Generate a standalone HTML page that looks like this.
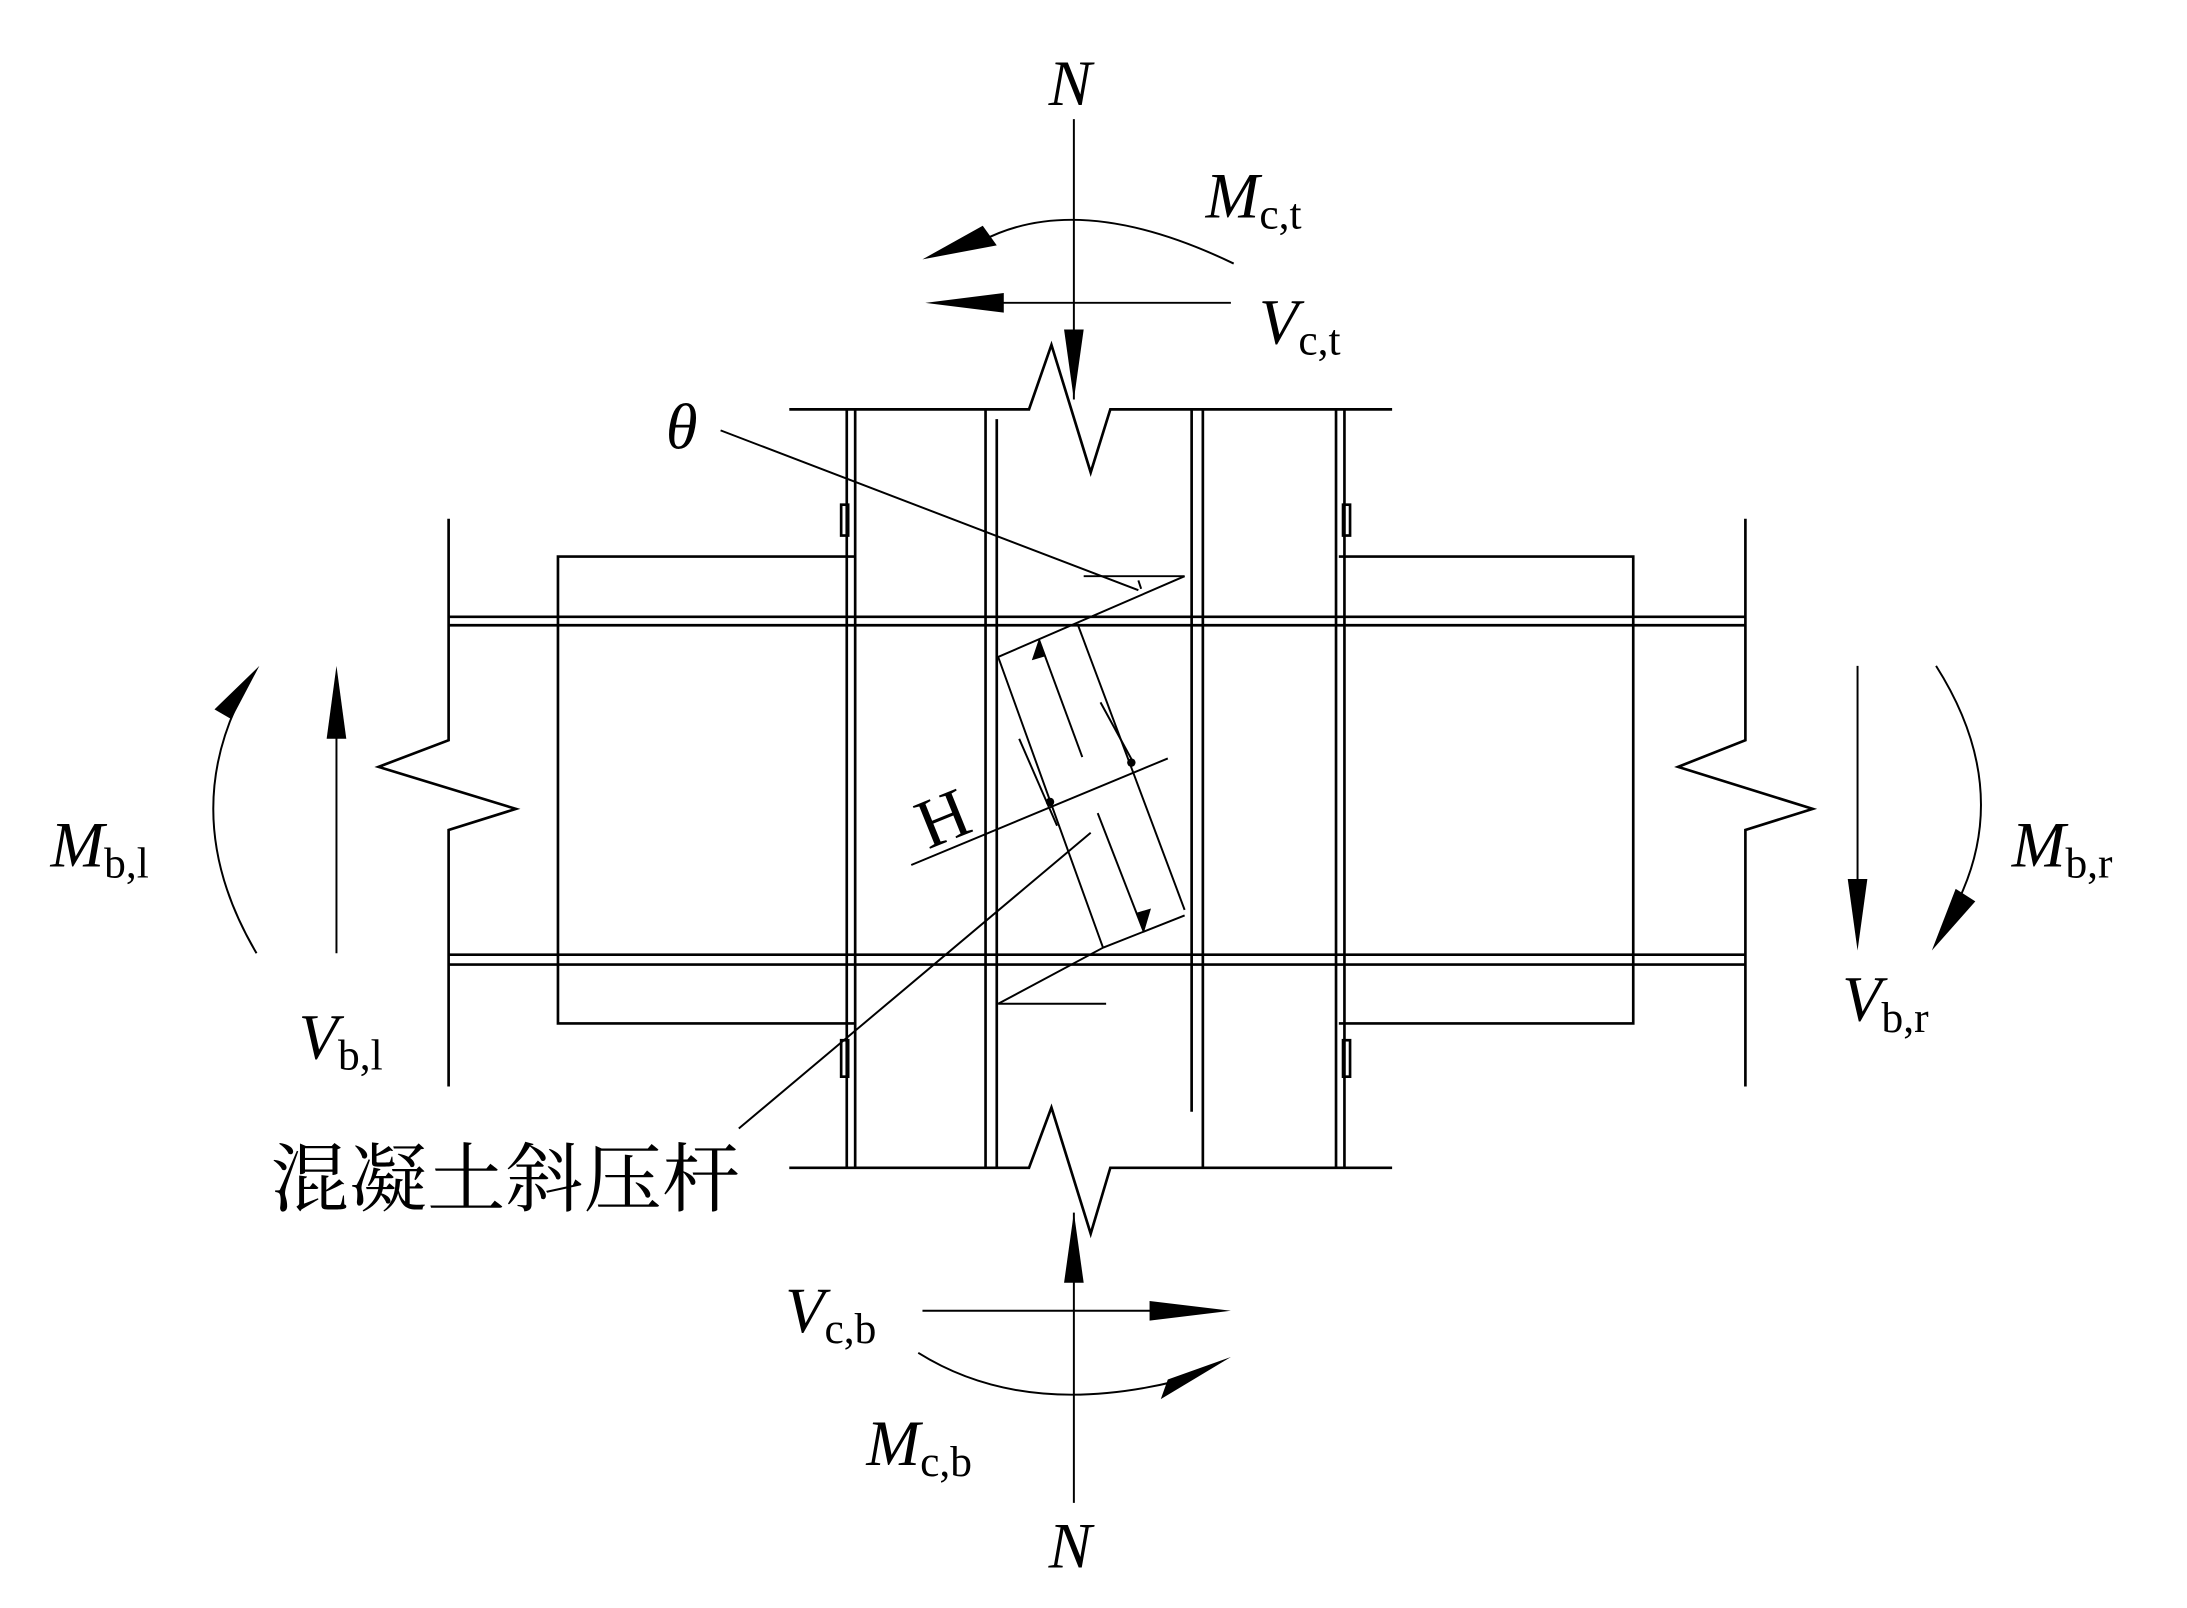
<!DOCTYPE html>
<html><head><meta charset="utf-8"><style>
html,body{margin:0;padding:0;background:#fff;}
svg{display:block;}
text{font-family:"Liberation Serif","Noto Serif CJK SC",serif;fill:#000;}
</style></head><body>
<svg width="2187" height="1608" viewBox="0 0 1560 1147" preserveAspectRatio="none" xmlns="http://www.w3.org/2000/svg">
<g fill="none" stroke="#000" stroke-width="1.9">
<polyline points="563,292 734,292 750,246 778,337 792,292 993,292"/>
<polyline points="563,833 734,833 750,790 778,880 792,833 993,833"/>
<line x1="604" y1="292" x2="604" y2="833"/>
<line x1="610" y1="292" x2="610" y2="833"/>
<line x1="703" y1="292" x2="703" y2="833"/>
<line x1="711" y1="299" x2="711" y2="833"/>
<line x1="850" y1="292" x2="850" y2="793"/>
<line x1="858" y1="292" x2="858" y2="833"/>
<line x1="953" y1="292" x2="953" y2="833"/>
<line x1="959" y1="292" x2="959" y2="833"/>
<rect x="600" y="360" width="5" height="22"/>
<rect x="600" y="742" width="5" height="26"/>
<rect x="958" y="360" width="5" height="22"/>
<rect x="958" y="742" width="5" height="26"/>
<polyline points="610,397 398,397 398,730 610,730"/>
<polyline points="955,397 1165,397 1165,730 955,730"/>
<line x1="320" y1="440" x2="1245" y2="440"/>
<line x1="320" y1="446" x2="1245" y2="446"/>
<line x1="320" y1="681" x2="1245" y2="681"/>
<line x1="320" y1="688" x2="1245" y2="688"/>
<polyline points="320,370 320,528 270,547 368,577 320,592 320,775"/>
<polyline points="1245,370 1245,528 1197,547 1293,577 1245,592 1245,775"/>
</g>
<g fill="none" stroke="#000" stroke-width="1.4">
<polyline points="845,411 712,468.6 786.8,676"/>
<line x1="768.6" y1="445" x2="845" y2="649"/>
<polyline points="845,653 786.8,676"/>
<line x1="786.8" y1="676" x2="712" y2="716"/>
<line x1="773" y1="411" x2="845" y2="411"/>
<line x1="712" y1="716" x2="789" y2="716"/>
<line x1="514" y1="307" x2="812" y2="421"/>
<line x1="812" y1="414" x2="814" y2="420"/>
<line x1="650" y1="617" x2="833" y2="541"/>
<line x1="727" y1="527" x2="754" y2="589"/>
<line x1="785" y1="501" x2="809" y2="545"/>
<line x1="772" y1="540" x2="741" y2="456"/>
<line x1="783" y1="580" x2="816" y2="665"/>
<line x1="527" y1="805" x2="778" y2="594"/>
<line x1="766" y1="85" x2="766" y2="285"/>
<line x1="766" y1="865" x2="766" y2="1072"/>
<line x1="690" y1="216" x2="878" y2="216"/>
<line x1="658" y1="935" x2="840" y2="935"/>
<line x1="240" y1="500" x2="240" y2="680"/>
<line x1="1325" y1="475" x2="1325" y2="650"/>
<path d="M700,172 Q770,135 880,188"/>
<path d="M655,965 Q730,1012 840,985"/>
<path d="M183,680 Q130,590 168,505"/>
<path d="M1381,475 Q1435,560 1398,640"/>
</g>
<g fill="#000" stroke="none">
<polygon points="759,235 773,235 766,285"/>
<polygon points="759,915 773,915 766,865"/>
<polygon points="660,216 716,209 716,223"/>
<polygon points="878,935 820,928 820,942"/>
<polygon points="233,527 247,527 240,475"/>
<polygon points="1318,627 1332,627 1325,678"/>
<polygon points="658,185 701,161 711,175"/>
<polygon points="878,968 833,984 828,998"/>
<polygon points="185,475 165,513 153,506"/>
<polygon points="1378,678 1395,634 1409,643"/>
<polygon points="741,456 736,471 746,468"/>
<polygon points="816,665 811,651 821,648"/>
<circle cx="749" cy="572" r="3"/>
<circle cx="807" cy="544" r="3"/>
</g>
<g font-size="46">
<text x="748" y="75" font-style="italic">N</text>
<text x="748" y="1118" font-style="italic">N</text>
<text x="860" y="155" font-style="italic">M<tspan font-size="31" font-style="normal" dy="8">c,t</tspan></text>
<text x="898" y="245" font-style="italic">V<tspan font-size="31" font-style="normal" dy="8">c,t</tspan></text>
<text x="475" y="320" font-style="italic">θ</text>
<text x="36" y="618" font-style="italic">M<tspan font-size="31" font-style="normal" dy="8">b,l</tspan></text>
<text x="213" y="755" font-style="italic">V<tspan font-size="31" font-style="normal" dy="8">b,l</tspan></text>
<text x="1435" y="618" font-style="italic">M<tspan font-size="31" font-style="normal" dy="8">b,r</tspan></text>
<text x="1314" y="728" font-style="italic">V<tspan font-size="31" font-style="normal" dy="8">b,r</tspan></text>
<text x="560" y="950" font-style="italic">V<tspan font-size="31" font-style="normal" dy="8">c,b</tspan></text>
<text x="618" y="1045" font-style="italic">M<tspan font-size="31" font-style="normal" dy="8">c,b</tspan></text>
<text x="0" y="0" font-size="50" transform="translate(662,606) rotate(-22)">H</text>
<text x="193" y="860" font-size="54" textLength="335" lengthAdjust="spacingAndGlyphs">混凝土斜压杆</text>
</g>
</svg>
</body></html>
